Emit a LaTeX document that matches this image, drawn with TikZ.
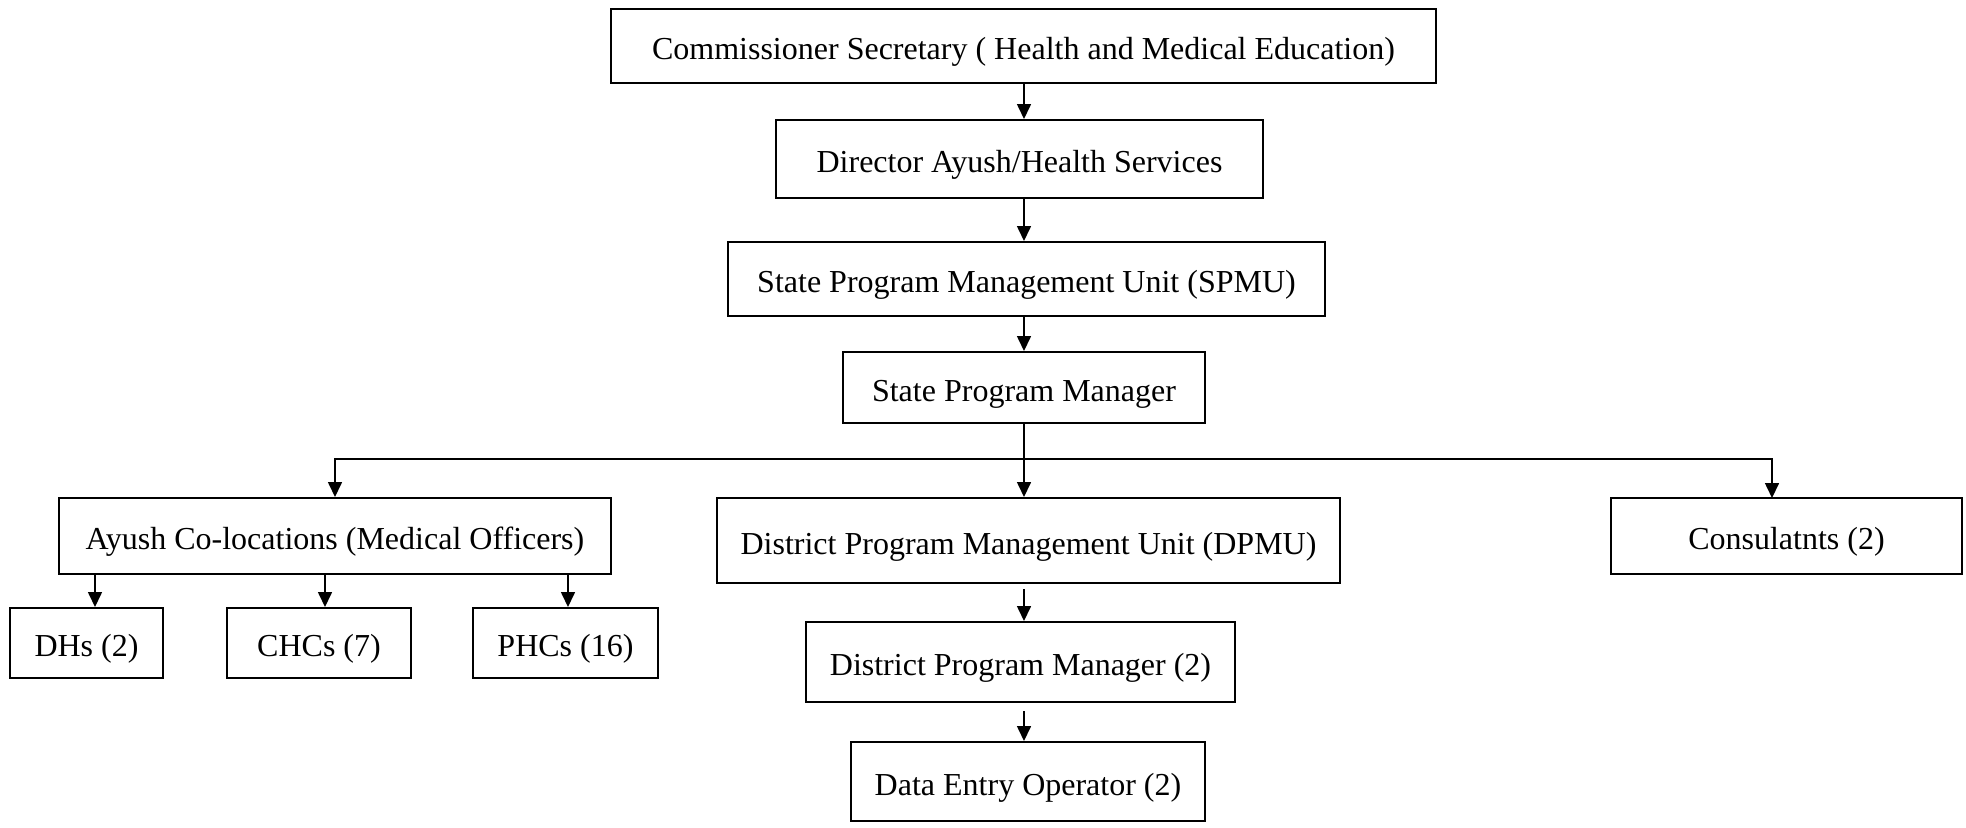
\documentclass[tikz,border=0pt]{standalone}
\usepackage{fontspec}
\setmainfont{Liberation Serif}
\usetikzlibrary{arrows.meta}
\begin{document}
\begin{tikzpicture}[x=0.5pt, y=-0.5pt, line join=miter,
		box/.style={draw, line width=1pt, inner sep=0pt, align=center, text height=15pt, text depth=1.5pt, font=\fontsize{16}{18}\selectfont},
		arr/.style={line width=0.8pt, -{Triangle[length=7.5pt, width=7pt]}}]
	% Fix the page size
	\useasboundingbox (0,0) rectangle (1966,827);
	
	% Main column
	\node[box, minimum width=412.5pt, minimum height=37pt] (comm) at (1023.5,46) {Commissioner Secretary ( Health and Medical Education)};
	\node[box, minimum width=243.5pt, minimum height=39pt] (dir) at (1019.5,159) {Director Ayush/Health Services};
	\node[box, minimum width=298.5pt, minimum height=37pt] (spmu) at (1026.5,279) {State Program Management Unit (SPMU)};
	\node[box, minimum width=181pt, minimum height=35.5pt] (spm) at (1024,387.5) {State Program Manager};
	
	% Second level
	\node[box, minimum width=276pt, minimum height=38pt] (ayush) at (335,536) {Ayush Co-locations (Medical Officers)};
	\node[box, minimum width=311.5pt, minimum height=42.5pt] (dpmu) at (1028.5,540.5) {District Program Management Unit (DPMU)};
	\node[box, minimum width=175.5pt, minimum height=38pt] (cons) at (1786.5,536) {Consulatnts (2)};
	
	% Ayush co-locations
	\node[box, minimum width=76.5pt, minimum height=35pt] (dhs) at (86.5,643) {DHs (2)};
	\node[box, minimum width=92pt, minimum height=35pt] (chcs) at (319,643) {CHCs (7)};
	\node[box, minimum width=92.5pt, minimum height=35pt] (phcs) at (565.5,643) {PHCs (16)};
	
	% District level
	\node[box, minimum width=214.5pt, minimum height=40pt] (dpm) at (1020.5,662) {District Program Manager (2)};
	\node[box, minimum width=177pt, minimum height=39.5pt] (deo) at (1028,781.5) {Data Entry Operator (2)};
	
	% Arrows down the main column
	\draw[arr] (comm.south -| spm) -- (dir.north -| spm);
	\draw[arr] (dir.south -| spm) -- (spmu.north -| spm);
	\draw[arr] (spmu.south -| spm) -- (spm.north);
	
	% Branch line
	\coordinate (bus) at (1024,459);
	\draw[line width=0.8pt] (spm.south) -- (bus);
	\draw[arr] (bus) -| (ayush.north);
	\draw[arr] (bus) -| (1772,498);
	\draw[arr] (bus) -- (dpmu.north -| bus);
	
	% Arrows to the co-locations
	\foreach \n/\x in {dhs/95, chcs/325, phcs/568} {
		\draw[arr] (ayush.south -| \x,0) -- (\n.north -| \x,0);
	}
	
	% District arrows
	\draw[arr] (dpmu.south -| bus) ++(0,5) -- (dpm.north -| bus);
	\draw[arr] (dpm.south -| bus) ++(0,8) -- (deo.north -| bus);
\end{tikzpicture}
\end{document}
